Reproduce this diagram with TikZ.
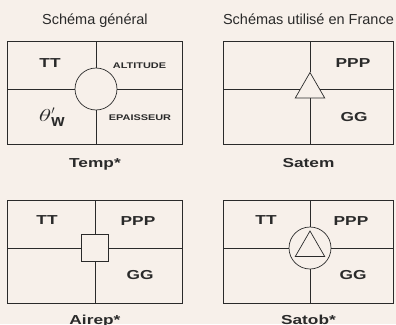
\documentclass[tikz,border=0pt]{standalone}
\usepackage{fontspec}
\setmainfont{Liberation Sans}
\usepackage{graphicx}
\usepackage{tikz}
\usetikzlibrary{positioning, shapes.geometric}
\definecolor{paperCream}{HTML}{F7F0EA}
\definecolor{inkGrey}{HTML}{2A2A2A}
\newcommand{\wide}[1]{\scalebox{1.33}[1]{#1}}

\begin{document}
\begin{tikzpicture}[
    x=1pt, y=-1pt,
    panel/.style={draw=inkGrey, line width=0.9pt, inner sep=0pt, minimum height=103pt, anchor=north west},
    ring/.style={circle, draw=inkGrey, fill=paperCream, line width=0.7pt, minimum size=42pt, inner sep=0pt},
    tri/.style={regular polygon, regular polygon sides=3, draw=inkGrey, fill=paperCream, line width=0.7pt, minimum size=34pt, inner sep=0pt},
    plate/.style={rectangle, draw=inkGrey, fill=paperCream, line width=0.7pt, minimum size=27pt, inner sep=0pt},
    every edge/.style={draw=inkGrey, line width=0.7pt},
    bigLab/.style={font=\fontsize{13}{15}\selectfont\bfseries, text=inkGrey, inner sep=0pt},
    smallLab/.style={font=\fontsize{8.2}{10}\selectfont\bfseries, text=inkGrey, inner sep=0pt},
    caption/.style={bigLab, text height=9.4pt, anchor=north},
    heading/.style={font=\fontsize{14.5}{17}\selectfont, text=inkGrey, inner sep=0pt, text depth=0pt, anchor=south}
]
    \fill[paperCream] (0,0) rectangle (396,324);
    \useasboundingbox (0,0) rectangle (396,324);

    % the four panels
    \node[panel, minimum width=175pt] (temp) at (7,41) {};
    \node[panel, minimum width=170pt] (satem) at (223,41) {};
    \node[panel, minimum width=175pt] (airep) at (7,200) {};
    \node[panel, minimum width=170pt] (satob) at (223,200) {};

    % station symbols
    \node[ring] (tempC) at (96,89) {};
    \node[tri] (satemC) at (310,89.5) {};
    \node[plate] (airepC) at (95,248) {};
    \node[ring] (satobC) at (310,248) {};
    \node[tri] (satobT) at (310,248) {};

    \path (tempC) edge (tempC |- temp.north) edge (tempC |- temp.south)
                  edge (tempC -| temp.west) edge (tempC -| temp.east)
          (satemC) edge (satemC |- satem.north) edge (satemC |- satem.south)
                  edge (satemC -| satem.west) edge (satemC -| satem.east)
          (airepC) edge (airepC |- airep.north) edge (airepC |- airep.south)
                  edge (airepC -| airep.west) edge (airepC -| airep.east)
          (satobC) edge (satobC |- satob.north) edge (satobC |- satob.south)
                  edge (satobC -| satob.west) edge (satobC -| satob.east);

    % headings and captions
    \node[heading, above=16pt of temp] (headGen) {Schéma général};
    \node[heading, above=16pt of satem] (headFr) {Schémas utilisé en France};
    \node[caption, below=12.6pt of temp] (tempCap) {\wide{Temp*}};
    \node[caption, below=12.6pt of satem] (satemCap) {\wide{Satem}};
    \node[caption, below=10.5pt of airep] (airepCap) {\wide{Airep*}};
    \node[caption, below=10.5pt of satob] (satobCap) {\wide{Satob*}};

    % values in the quadrants
    \node[bigLab] (tempTT) at (50,63) {\wide{TT}};
    \node[smallLab] (tempAlt) at (139.5,66) {\wide{ALTITUDE}};
    \node[bigLab, font=\fontsize{17}{20}\selectfont\bfseries] (tempTheta) at (52,117)
        {$\scalebox{1.5}[1]{$\theta$}'_{\textbf{w}}$};
    \node[smallLab] (tempEp) at (140,118) {\wide{EPAISSEUR}};
    \node[bigLab] (satemPPP) at (353,63) {\wide{PPP}};
    \node[bigLab] (satemGG) at (354,117) {\wide{GG}};
    \node[bigLab] (airepTT) at (47,220) {\wide{TT}};
    \node[bigLab] (airepPPP) at (138,221) {\wide{PPP}};
    \node[bigLab] (airepGG) at (140,275) {\wide{GG}};
    \node[bigLab] (satobTT) at (266,220) {\wide{TT}};
    \node[bigLab] (satobPPP) at (351,221) {\wide{PPP}};
    \node[bigLab] (satobGG) at (353,275) {\wide{GG}};
\end{tikzpicture}
\end{document}
